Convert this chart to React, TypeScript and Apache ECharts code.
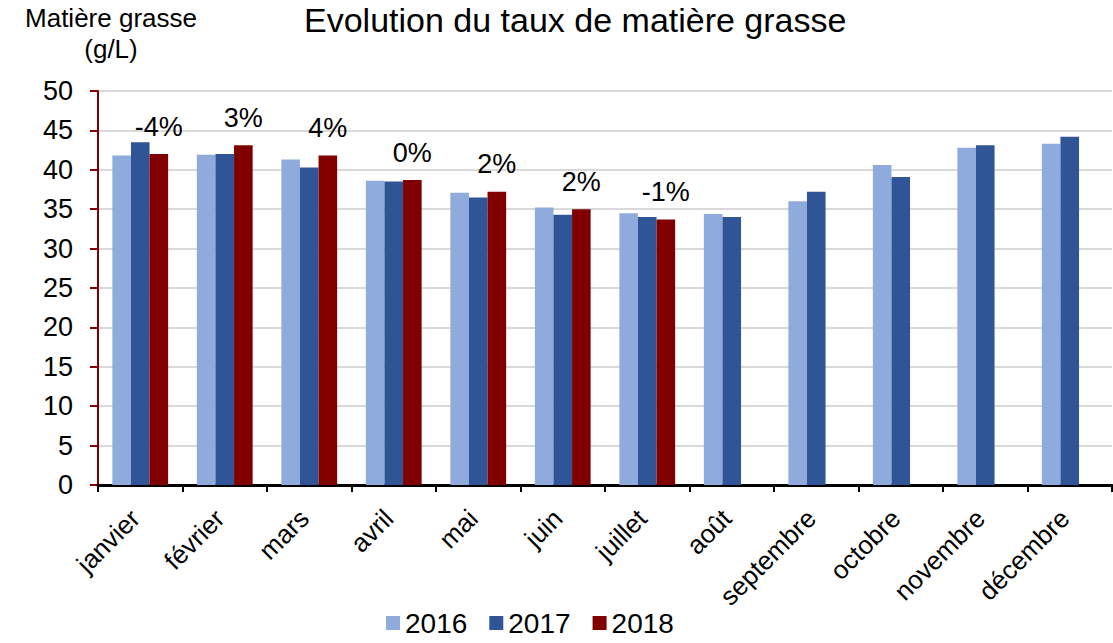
import React, { useEffect, useRef } from "react";
import * as echarts from "echarts";

const months = ["janvier", "février", "mars", "avril", "mai", "juin", "juillet", "août", "septembre", "octobre", "novembre", "décembre"];
const y2016 = [41.8, 41.9, 41.3, 38.6, 37.1, 35.2, 34.5, 34.4, 36.0, 40.6, 42.8, 43.3];
const y2017 = [43.5, 42.0, 40.3, 38.5, 36.5, 34.3, 34.0, 34.0, 37.2, 39.1, 43.1, 44.2];
const y2018 = [42.0, 43.1, 41.8, 38.7, 37.2, 35.0, 33.7, null, null, null, null, null];
const pctLabels = ["-4%", "3%", "4%", "0%", "2%", "2%", "-1%"];
const yTicks = { min: 0, max: 50, interval: 5 };

const FONT = "'Liberation Sans', Arial, sans-serif";

export default function App() {
  const ref = useRef<HTMLDivElement>(null);
  useEffect(() => {
    if (!ref.current) return;
    const chart = echarts.init(ref.current, null, { renderer: "svg" });
    chart.setOption({
      animation: false,
      backgroundColor: "#fff",
      textStyle: { fontFamily: FONT, color: "#000" },
      title: {
        text: "Evolution du taux de matière grasse",
        left: 304,
        top: 3,
        padding: 0,
        textStyle: { fontFamily: FONT, fontSize: 34, fontWeight: "normal", color: "#000" },
      },
      graphic: [
        {
          type: "text",
          x: 111,
          y: 2,
          style: {
            text: "Matière grasse\n(g/L)",
            align: "center",
            fontFamily: FONT,
            fontSize: 26,
            lineHeight: 31,
            fill: "#000",
          },
        },
      ],
      legend: {
        left: 386,
        top: 609,
        itemWidth: 14,
        itemHeight: 14,
        itemGap: 22,
        padding: 0,
        icon: "rect",
        textStyle: { fontFamily: FONT, fontSize: 28, color: "#000", padding: [0, 0, 0, 0] },
        data: ["2016", "2017", "2018"],
      },
      grid: { left: 98, right: 1, top: 91, bottom: 158, containLabel: false },
      xAxis: {
        type: "category",
        data: months,
        axisLine: { lineStyle: { color: "#000", width: 3 } },
        axisTick: { show: true, length: 7, lineStyle: { color: "#000", width: 2 } },
        axisLabel: { rotate: 45, fontSize: 26, color: "#000", fontFamily: FONT, margin: 24, padding: [0, 7, 0, 0], interval: 0 },
      },
      yAxis: {
        type: "value",
        min: yTicks.min,
        max: yTicks.max,
        interval: yTicks.interval,
        axisLine: { show: true, lineStyle: { color: "#800000", width: 2 } },
        axisTick: { show: true, length: 8, lineStyle: { color: "#800000", width: 2 } },
        axisLabel: { fontSize: 27, color: "#000", fontFamily: FONT, margin: 25 },
        splitLine: { lineStyle: { color: "#d9d9d9", width: 2 } },
      },
      series: [
        {
          name: "2016",
          type: "bar",
          data: y2016,
          barGap: "0%",
          barCategoryGap: "34%",
          itemStyle: { color: "#8FAADC" },
        },
        {
          name: "2017",
          type: "bar",
          data: y2017,
          barGap: "0%",
          barCategoryGap: "34%",
          itemStyle: { color: "#2F5597" },
        },
        {
          name: "2018",
          type: "bar",
          data: y2018,
          barGap: "0%",
          barCategoryGap: "34%",
          itemStyle: { color: "#800000" },
          label: {
            show: true,
            position: "top",
            distance: 14,
            fontSize: 27,
            color: "#000",
            fontFamily: FONT,
            formatter: (p: any) => pctLabels[p.dataIndex] ?? "",
          },
        },
      ],
    });
    return () => chart.dispose();
  }, []);
  return <div ref={ref} style={{ position: "fixed", left: 0, top: 0, width: 1113, height: 643 }} />;
}
